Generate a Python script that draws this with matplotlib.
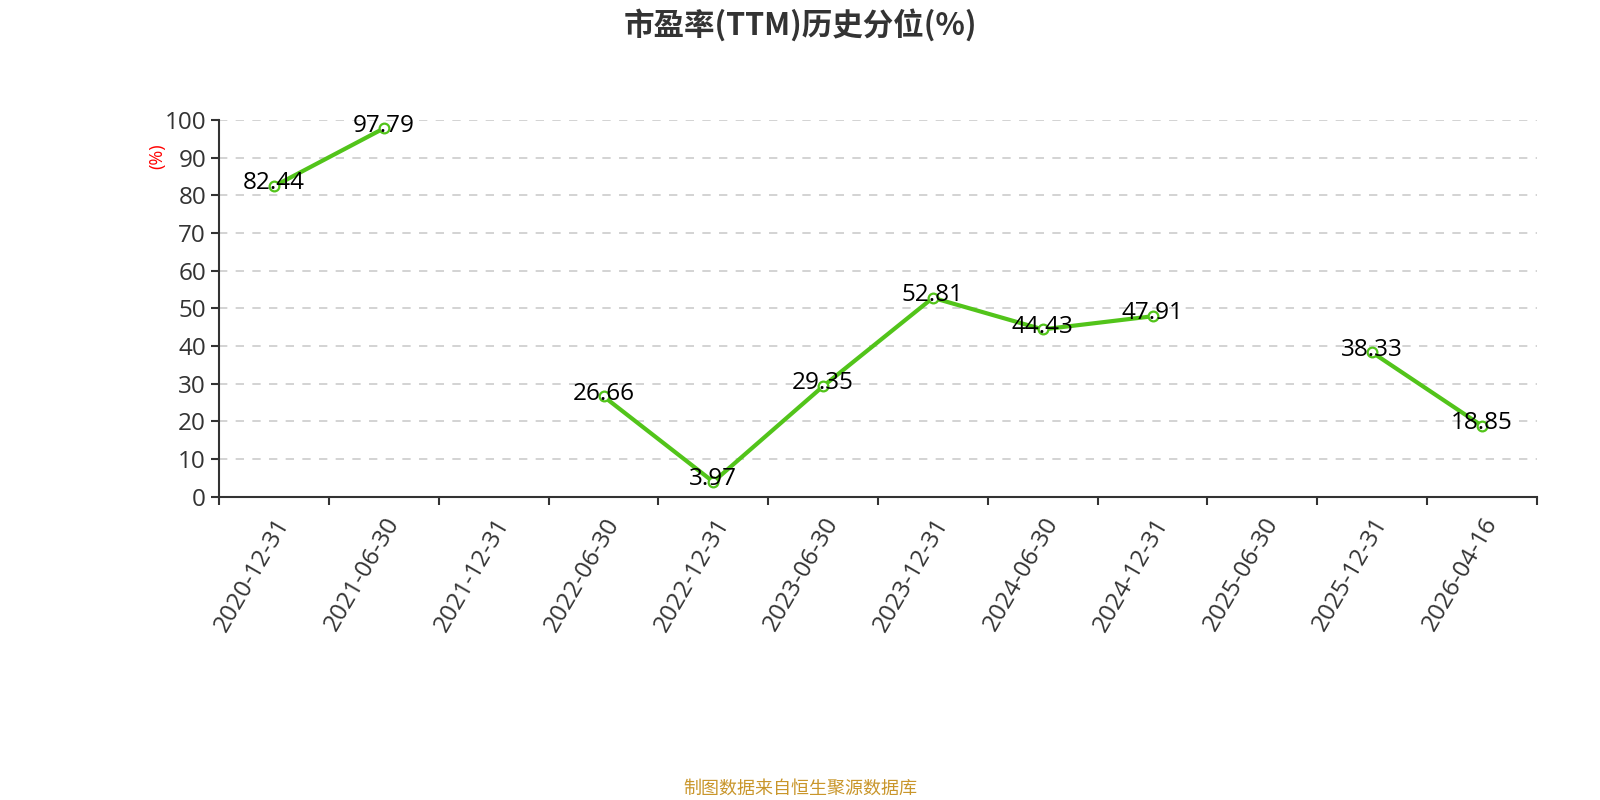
import numpy as np
import matplotlib
matplotlib.use("Agg")
import matplotlib.pyplot as plt

plt.rcParams['font.family'] = ['Open Sans', 'Noto Sans CJK SC', 'DejaVu Sans']

dates = ['2020-12-31', '2021-06-30', '2021-12-31', '2022-06-30', '2022-12-31', '2023-06-30',
         '2023-12-31', '2024-06-30', '2024-12-31', '2025-06-30', '2025-12-31', '2026-04-16']
values = [82.44, 97.79, None, 26.66, 3.97, 29.35, 52.81, 44.43, 47.91, None, 38.33, 18.85]

green = '#52c41a'
cjk = ['Noto Sans CJK SC', 'DejaVu Sans']
y = np.array([np.nan if v is None else v for v in values])
x = np.arange(len(dates))

fig = plt.figure(figsize=(16, 8), dpi=100)
ax = fig.add_axes([0.137, 0.379, 0.8235, 0.471])

for yy in range(10, 101, 10):
    ax.axhline(yy, color='#cccccc', lw=1.2, ls=(0, (5, 5)), zorder=1)

ax.plot(x, y, color=green, lw=3, zorder=3)
ax.plot(x, y, 'o', ms=7, mfc='white', mec=green, mew=1.6, zorder=4)

for xi, v in zip(x, values):
    if v is None:
        continue
    ax.annotate('%.2f' % v, (xi, v), xytext=(0, 2), textcoords='offset points',
                ha='center', va='center', fontsize=17.5, color='black', zorder=5)

ax.set_xlim(-0.5, len(dates) - 0.5)
ax.set_ylim(0, 100)
ax.set_yticks(range(0, 101, 10))
ax.tick_params(axis='y', labelsize=17.5, labelcolor='#333333', color='#333333', length=6, width=1.5)

ax.set_xticks(np.arange(len(dates) + 1) - 0.5)
ax.set_xticklabels([])
ax.set_xticks(x, minor=True)
ax.set_xticklabels(dates, minor=True, rotation=60, ha='right', rotation_mode='anchor',
                   fontsize=17.5, color='#333333')
ax.tick_params(axis='x', which='major', color='#333333', length=6, width=1.5)
ax.tick_params(axis='x', which='minor', length=0, pad=12)

for s in ['top', 'right']:
    ax.spines[s].set_visible(False)
for s in ['left', 'bottom']:
    ax.spines[s].set_color('#333333')
    ax.spines[s].set_linewidth(1.5)

fig.text(0.098, 0.805, '(%)', rotation=90, color='red', fontsize=13, ha='center', va='center')
fig.text(0.5, 0.968, '市盈率(TTM)历史分位(%)', ha='center', va='center', fontsize=22,
         fontweight='bold', color='#333333', family=cjk)
fig.text(0.5, 0.014, '制图数据来自恒生聚源数据库', ha='center', va='center', fontsize=13,
         color='#c9962b', family=cjk)

fig.savefig('out.png', dpi=100)
